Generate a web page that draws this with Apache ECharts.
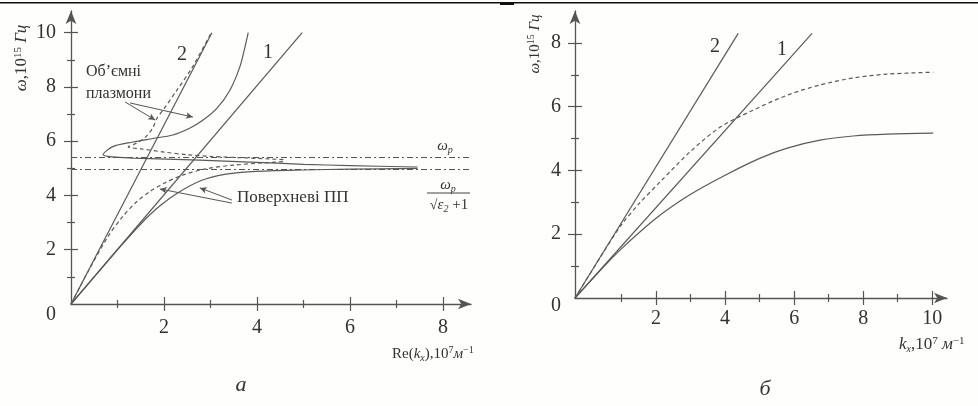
<!DOCTYPE html>
<html>
<head>
<meta charset="utf-8">
<script src="https://cdn.jsdelivr.net/npm/echarts@6/dist/echarts.min.js"></script>
<style>
  html, body { margin: 0; padding: 0; background: #fefefd; }
  #chart { width: 978px; height: 406px; }
</style>
</head>
<body>
<div id="chart"></div>
<script>
// ---- panel a: Re(kx) vs omega ----
const aLine2 = [[0, 0], [3.03, 10]];
const aLine1 = [[0, 0], [4.97, 10]];
const aSolidBulk = [[3.81, 10], [3.74, 9.47], [3.63, 8.74], [3.42, 7.89], [3.14, 7.22], [2.84, 6.78], [2.56, 6.49],
  [2.19, 6.23], [1.76, 6.1], [1.33, 5.97], [0.9, 5.8], [0.69, 5.5], [0.9, 5.42], [1.33, 5.38], [2.06, 5.34],
  [2.77, 5.3], [3.85, 5.23], [5.0, 5.15], [6.0, 5.1], [7.45, 5.05]];
const aSolidSpp = [[0, 0], [0.5, 1.0], [1.0, 2.0], [1.5, 2.95], [1.9, 3.6], [2.3, 4.1], [2.8, 4.55], [3.3, 4.78],
  [3.9, 4.88], [5.0, 4.94], [6.0, 4.97], [7.45, 5.0]];
const aDashedBulk = [[3.0, 9.95], [2.6, 8.7], [2.28, 7.89], [2.0, 7.2], [1.85, 6.85], [1.76, 6.5], [1.6, 6.15],
  [1.4, 5.92], [1.23, 5.79], [1.5, 5.72], [2.0, 5.6], [2.5, 5.5], [3.0, 5.44], [3.85, 5.38], [4.6, 5.32]];
const aDashedSpp = [[0, 0], [0.4, 1.3], [0.8, 2.5], [1.1, 3.2], [1.4, 3.75], [1.7, 4.15], [2.0, 4.45], [2.4, 4.75],
  [2.9, 4.98], [3.5, 5.12], [4.6, 5.25]];
const aOmegaP = 5.41;
const aOmegaSp = 4.97;
const aMajorX = [2, 4, 6, 8];
const aMinorX = [1, 3, 5, 7];
const aMajorY = [2, 4, 6, 8, 10];
const aMinorY = [1, 3, 5, 7, 9];
const aArrows = [
  [[1.16, 7.45], [1.81, 6.78]],
  [[1.27, 7.41], [2.62, 6.89]],
  [[3.46, 3.72], [1.91, 4.24]],
  [[3.46, 3.83], [2.77, 4.28]],
];

// ---- panel b: kx vs omega ----
const bLine2 = [[-0.35, 0], [4.38, 8.3]];
const bLine1 = [[-0.35, 0], [6.52, 8.3]];
const bDashed = [[-0.35, 0], [0.5, 1.48], [1.0, 2.3], [1.5, 2.95], [2.17, 3.7], [3.0, 4.6], [3.86, 5.36], [4.81, 5.89],
  [5.8, 6.36], [6.75, 6.68], [7.71, 6.9], [8.7, 7.02], [10.03, 7.08]];
const bSolid = [[-0.35, 0], [0.5, 1.0], [1.0, 1.55], [2.0, 2.5], [3.0, 3.25], [4.0, 3.85], [5.0, 4.38], [5.8, 4.7],
  [6.75, 4.95], [7.71, 5.08], [8.7, 5.14], [10.03, 5.17]];
const bMajorX = [2, 4, 6, 8, 10];
const bMinorX = [1, 3, 5, 7, 9];
const bMajorY = [2, 4, 6, 8];
const bMinorY = [1, 3, 5, 7];

const ink = '#555';
const serif = 'Liberation Serif';

function axisSet(grid, position, range, major, minor, labels, label) {
  const base = {
    type: 'value', gridIndex: grid, position, min: range[0], max: range[1],
    splitLine: { show: false }, axisLine: { show: false, onZero: false },
    axisLabel: { show: false }, axisTick: { show: false },
  };
  const tick = (values, length, inside) => ({
    show: true, customValues: values, length, inside, lineStyle: { color: ink, width: 1.2 },
  });
  return [
    {
      ...base,
      axisLine: { show: true, onZero: false, symbol: ['none', 'arrow'], symbolSize: [8, 13], lineStyle: { color: ink, width: 1.3 } },
      axisLabel: { show: true, customValues: labels, ...label },
      axisTick: tick(major, 7, false),
    },
    { ...base, axisTick: tick(major, 7, true) },
    { ...base, axisTick: tick(minor, 4, false) },
    { ...base, axisTick: tick(minor, 4, true) },
  ];
}

function tickLabel(margin, zeroPad) {
  return {
    fontFamily: serif, fontSize: 20, color: '#333', margin,
    formatter: (v) => (v === 0 ? '{z|0}' : String(v)),
    rich: { z: { fontFamily: serif, fontSize: 20, color: '#333', padding: [zeroPad, 0, 0, 0] } },
  };
}

function curve(data, xi, yi, dashed) {
  return {
    type: 'line', data, xAxisIndex: xi, yAxisIndex: yi, smooth: 0.3, showSymbol: false, silent: true,
    lineStyle: { color: '#5a5a5a', width: 1.2, type: dashed ? [4, 3] : 'solid' },
  };
}

const chart = echarts.init(document.getElementById('chart'));

const rich = {
  n: { fontFamily: serif, fontSize: 15, color: '#333' },
  i: { fontFamily: serif, fontSize: 15, fontStyle: 'italic', color: '#333' },
  sup: { fontFamily: serif, fontSize: 10, color: '#333', padding: [0, 0, 8, 0] },
  sub: { fontFamily: serif, fontSize: 10, fontStyle: 'italic', color: '#333', padding: [8, 0, 0, 0] },
};

function txt(x, y, text, size, extra, rotation) {
  return {
    type: 'text', x, y, rotation: rotation || 0, silent: true,
    style: { text, fontFamily: serif, fontSize: size, fill: '#333', align: 'left', verticalAlign: 'middle', rich, ...extra },
  };
}

const bigRich = { ...rich, i: { ...rich.i, fontSize: 17 }, n: { ...rich.n, fontSize: 17 }, sup: { ...rich.sup, fontSize: 11 } };
const kRich = { ...rich, i: { ...rich.i, fontSize: 17 }, n: { ...rich.n, fontSize: 17 }, sup: { ...rich.sup, fontSize: 11 } };

chart.setOption({
  backgroundColor: '#fefefd',
  animation: false,
  grid: [
    { left: 71, top: 11, width: 400, height: 293, outerBoundsMode: 'none' },
    { left: 575, top: 11, width: 372, height: 287, outerBoundsMode: 'none' },
  ],
  xAxis: [
    ...axisSet(0, 'bottom', [0, 8.6], aMajorX, aMinorX, aMajorX, tickLabel(14, 0)),
    ...axisSet(1, 'bottom', [-0.35, 10.43], bMajorX, bMinorX, bMajorX, tickLabel(11, 0)),
  ],
  yAxis: [
    ...axisSet(0, 'left', [0, 10.8], aMajorY, aMinorY, [0, ...aMajorY], tickLabel(15, 22)),
    ...axisSet(1, 'left', [0, 9], bMajorY, bMinorY, [0, ...bMajorY], tickLabel(14, 16)),
  ],
  series: [
    curve(aLine2, 0, 0, false),
    curve(aLine1, 0, 0, false),
    curve(aSolidBulk, 0, 0, false),
    curve(aSolidSpp, 0, 0, false),
    curve(aDashedBulk, 0, 0, true),
    curve(aDashedSpp, 0, 0, true),
    {
      type: 'line', data: [], xAxisIndex: 0, yAxisIndex: 0, silent: true,
      markLine: {
        silent: true, symbol: 'none', label: { show: false },
        lineStyle: { color: '#555', width: 1, type: [6, 3, 2, 3] },
        data: [{ yAxis: aOmegaP }, { yAxis: aOmegaSp }],
      },
    },
    {
      type: 'line', data: [], xAxisIndex: 0, yAxisIndex: 0, silent: true,
      markLine: {
        silent: true, symbol: ['none', 'arrow'], symbolSize: [5, 7], label: { show: false },
        lineStyle: { color: '#555', width: 1, type: 'solid' },
        data: aArrows.map(([s, e]) => [{ coord: s }, { coord: e }]),
      },
    },
    curve(bLine2, 4, 4, false),
    curve(bLine1, 4, 4, false),
    curve(bDashed, 4, 4, true),
    curve(bSolid, 4, 4, false),
  ],
  graphic: [
    { type: 'rect', shape: { x: 0, y: 2, width: 978, height: 1.5 }, style: { fill: '#111' }, silent: true },
    { type: 'rect', shape: { x: 500, y: 2, width: 14, height: 3 }, style: { fill: '#111' }, silent: true },
    txt(22, 58, '{i|ω}{n|,10}{sup|15}{i| Гц}', 17, { align: 'center', rich: bigRich }, Math.PI / 2),
    txt(535, 44, '{i|ω}{n|,10}{sup|15}{i| Гц}', 15, { align: 'center' }, Math.PI / 2),
    txt(392, 354, '{n|Re(}{i|k}{sub|x}{n|),10}{sup|7}{i|м}{sup|−1}', 15),
    txt(899, 345, '{i|k}{sub|x}{n|,10}{sup|7}{i| м}{sup|−1}', 17, { rich: kRich }),
    txt(86, 72, 'Об’ємні', 16),
    txt(86, 94, 'плазмони', 16),
    txt(237, 198, 'Поверхневі ПП', 17),
    txt(445, 146, '{i|ω}{sub|p}', 14, { align: 'center' }),
    txt(448, 185, '{i|ω}{sub|p}', 13, { align: 'center' }),
    { type: 'rect', shape: { x: 427, y: 192.5, width: 43, height: 1 }, style: { fill: '#444' }, silent: true },
    txt(449, 205, '√{i|ε}{sub|2}{n| +1}', 14, { align: 'center' }),
    txt(182, 55, '2', 20, { align: 'center' }),
    txt(268, 53, '1', 20, { align: 'center' }),
    txt(715, 47, '2', 20, { align: 'center' }),
    txt(782, 50, '1', 20, { align: 'center' }),
    txt(241, 385, 'а', 22, { align: 'center', fontStyle: 'italic' }),
    txt(765, 389, 'б', 22, { align: 'center', fontStyle: 'italic' }),
  ],
});
</script>
</body>
</html>
